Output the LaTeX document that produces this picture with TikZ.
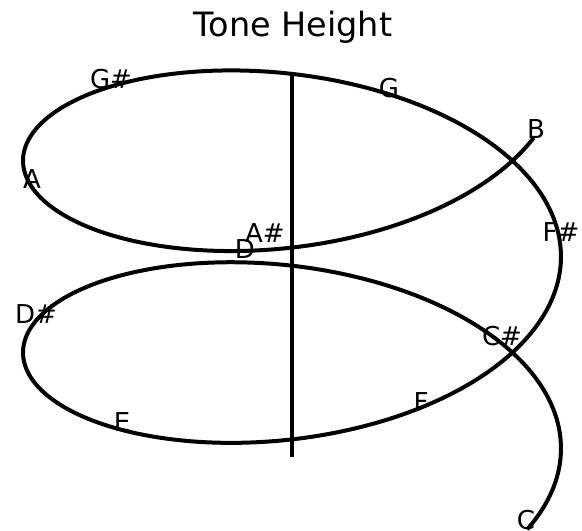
\documentclass[tikz,border=0pt]{standalone}
\usepackage{fontspec}
\setmainfont{DejaVu Sans}
\usepackage{tikz}

\begin{document}
\begin{tikzpicture}[
		x=1pt,
		y=-1pt,
		helix/.style={
				line width=4pt,
				line join=round
			},
		note/.style={
				anchor=base,
				inner sep=0pt,
				font=\fontsize{26}{30}\selectfont
			}
	]
	\useasboundingbox (0, 0) rectangle (582, 531);

	\node[anchor=base, inner sep=0pt, font=\fontsize{33.5}{38}\selectfont] (title) at (293, 36) {Tone Height};

	% axis of the helix
	\coordinate (axtop) at (292, 72);
	\coordinate (axbot) at (292, 457);
	\draw[helix] (axtop) -- (axbot);

	% two turns of the helix, seen from above
	\draw[helix] plot[domain=-3:720, samples=240, smooth, variable=\t]
	({292 + 269*cos(\t - 26)}, {462.3 - 134.8*sin(\t - 26) - 0.5328*\t});

	\node[note] (nC)  at (526, 529) {C};
	\node[note] (nCs) at (502, 345) {C\#};
	\node[note] (nD)  at (245, 258) {D};
	\node[note] (nDs) at (36, 323)  {D\#};
	\node[note] (nE)  at (122, 431) {E};
	\node[note] (nF)  at (421, 411) {F};
	\node[note] (nFs) at (561, 241) {F\#};
	\node[note] (nG)  at (389, 97)  {G};
	\node[note] (nGs) at (111, 88)  {G\#};
	\node[note] (nA)  at (32, 188)  {A};
	\node[note] (nAs) at (265, 242) {A\#};
	\node[note] (nB)  at (536, 138) {B};

\end{tikzpicture}
\end{document}
